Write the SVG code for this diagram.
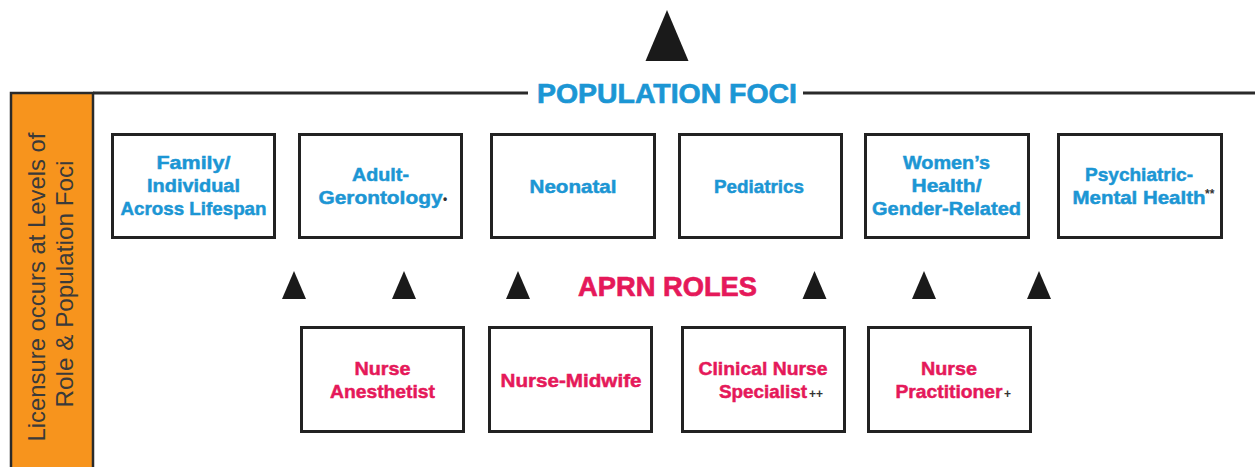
<svg xmlns="http://www.w3.org/2000/svg" width="1255" height="467" viewBox="0 0 1255 467">
  <style>
    .box { fill: #ffffff; stroke: #222222; stroke-width: 3; }
    .foc { font-family: "Liberation Sans", Arial, sans-serif; font-weight: bold; font-size: 19px; fill: #1c96d4; stroke: #1c96d4; stroke-width: 0.5; text-anchor: middle; }
    .role { font-family: "Liberation Sans", Arial, sans-serif; font-weight: bold; font-size: 19px; fill: #e5195a; stroke: #e5195a; stroke-width: 0.5; text-anchor: middle; }
    .mark { font-family: "Liberation Sans", Arial, sans-serif; font-weight: bold; font-size: 12px; fill: #333333; }
    .head { font-family: "Liberation Sans", Arial, sans-serif; font-weight: bold; font-size: 28px; stroke-width: 0.7; text-anchor: middle; }
    .side { font-family: "Liberation Sans", Arial, sans-serif; font-size: 24px; fill: #3a3a3a; text-anchor: middle; }
    .tri { fill: #1a1a1a; }
    .rule { stroke: #2a2a2a; stroke-width: 3; fill: none; }
  </style>
  <rect width="1255" height="467" fill="#ffffff"/>

  <g id="licensure-bar">
    <rect x="11" y="93" width="82" height="380" fill="#f7941d" stroke="#2a2a2a" stroke-width="2.5"/>
    <text class="side" transform="translate(45,287) rotate(-90)" textLength="309" lengthAdjust="spacingAndGlyphs">Licensure occurs at Levels of</text>
    <text class="side" transform="translate(73,284) rotate(-90)" textLength="247" lengthAdjust="spacingAndGlyphs">Role &amp; Population Foci</text>
  </g>

  <g id="population-foci-header">
    <line class="rule" x1="93" y1="93" x2="528" y2="93"/>
    <line class="rule" x1="803" y1="93" x2="1255" y2="93"/>
    <text class="head" x="667" y="103" fill="#1c96d4" stroke="#1c96d4" textLength="260" lengthAdjust="spacingAndGlyphs">POPULATION FOCI</text>
  </g>

  <g id="aprn-roles-header">
    <text class="head" x="667.5" y="296" fill="#e5195a" stroke="#e5195a" textLength="179" lengthAdjust="spacingAndGlyphs">APRN ROLES</text>
  </g>

  <g id="connectors">
    <polygon class="tri" points="667,10 645.5,61 688.5,61"/>
    <polygon class="tri" points="294,271 282,299 306,299"/>
    <polygon class="tri" points="404,271 392,299 416,299"/>
    <polygon class="tri" points="518,271 506,299 530,299"/>
    <polygon class="tri" points="814.5,271 802.5,299 826.5,299"/>
    <polygon class="tri" points="924,271 912,299 936,299"/>
    <polygon class="tri" points="1039,271 1027,299 1051,299"/>
  </g>

  <g id="focus-family">
    <rect class="box" x="112.5" y="134.5" width="162" height="103"/>
    <text class="foc" x="193.5" y="169" textLength="74" lengthAdjust="spacingAndGlyphs">Family/</text>
    <text class="foc" x="193.5" y="192" textLength="93" lengthAdjust="spacingAndGlyphs">Individual</text>
    <text class="foc" x="193.5" y="215" textLength="146" lengthAdjust="spacingAndGlyphs">Across Lifespan</text>
  </g>

  <g id="focus-adult-gerontology">
    <rect class="box" x="299.5" y="134.5" width="162" height="103"/>
    <text class="foc" x="380.5" y="181" textLength="57" lengthAdjust="spacingAndGlyphs">Adult-</text>
    <text class="foc" x="380.5" y="204" textLength="124" lengthAdjust="spacingAndGlyphs">Gerontology</text>
    <text class="mark" x="443" y="203" font-size="10">•</text>
  </g>

  <g id="focus-neonatal">
    <rect class="box" x="491.5" y="134.5" width="163" height="103"/>
    <text class="foc" x="573" y="193" textLength="87" lengthAdjust="spacingAndGlyphs">Neonatal</text>
  </g>

  <g id="focus-pediatrics">
    <rect class="box" x="679.5" y="134.5" width="162" height="103"/>
    <text class="foc" x="759" y="193" textLength="90" lengthAdjust="spacingAndGlyphs">Pediatrics</text>
  </g>

  <g id="focus-womens-health">
    <rect class="box" x="865.5" y="134.5" width="163" height="103"/>
    <text class="foc" x="946.5" y="169" textLength="87" lengthAdjust="spacingAndGlyphs">Women’s</text>
    <text class="foc" x="946.5" y="192" textLength="70" lengthAdjust="spacingAndGlyphs">Health/</text>
    <text class="foc" x="946.5" y="215" textLength="149" lengthAdjust="spacingAndGlyphs">Gender-Related</text>
  </g>

  <g id="focus-psychiatric">
    <rect class="box" x="1058.5" y="134.5" width="163" height="103"/>
    <text class="foc" x="1139" y="181" textLength="108" lengthAdjust="spacingAndGlyphs">Psychiatric-</text>
    <text class="foc" x="1139" y="204" textLength="133" lengthAdjust="spacingAndGlyphs">Mental Health</text>
    <text class="mark" x="1205" y="198">**</text>
  </g>

  <g id="role-nurse-anesthetist">
    <rect class="box" x="301.5" y="327.5" width="162" height="104"/>
    <text class="role" x="382.5" y="375" textLength="56" lengthAdjust="spacingAndGlyphs">Nurse</text>
    <text class="role" x="382.5" y="398" textLength="105" lengthAdjust="spacingAndGlyphs">Anesthetist</text>
  </g>

  <g id="role-nurse-midwife">
    <rect class="box" x="489.5" y="327.5" width="162" height="104"/>
    <text class="role" x="571" y="387" textLength="141" lengthAdjust="spacingAndGlyphs">Nurse-Midwife</text>
  </g>

  <g id="role-clinical-nurse-specialist">
    <rect class="box" x="682.5" y="327.5" width="162" height="104"/>
    <text class="role" x="763" y="375" textLength="129" lengthAdjust="spacingAndGlyphs">Clinical Nurse</text>
    <text class="role" x="763" y="398" textLength="88" lengthAdjust="spacingAndGlyphs">Specialist</text>
    <text class="mark" x="809" y="398" font-size="13">++</text>
  </g>

  <g id="role-nurse-practitioner">
    <rect class="box" x="868.5" y="327.5" width="162" height="104"/>
    <text class="role" x="949" y="375" textLength="56" lengthAdjust="spacingAndGlyphs">Nurse</text>
    <text class="role" x="949" y="398" textLength="107" lengthAdjust="spacingAndGlyphs">Practitioner</text>
    <text class="mark" x="1004" y="398" font-size="13">+</text>
  </g>
</svg>
